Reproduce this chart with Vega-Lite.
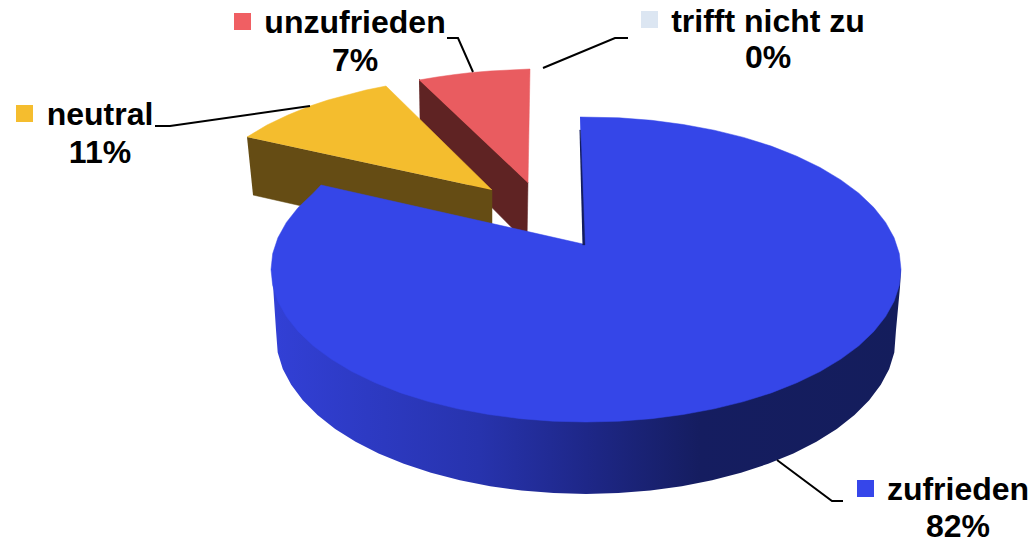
{"$schema":"https://vega.github.io/schema/vega-lite/v6.json","width":1032,"height":541,"autosize":"none","padding":0,"background":"white","view":{"stroke":null},
"datasets":{
"outlines":[
{"part":"redWall","i":1,"x":419,"y":79},{"part":"redWall","i":2,"x":528,"y":182},{"part":"redWall","i":3,"x":527,"y":243},{"part":"redWall","i":4,"x":420,"y":135},
{"part":"redTop","i":1,"x":419,"y":80},{"part":"redTop","i":2,"x":437,"y":77},{"part":"redTop","i":3,"x":455,"y":74.5},{"part":"redTop","i":4,"x":472,"y":72.5},{"part":"redTop","i":5,"x":490,"y":71},{"part":"redTop","i":6,"x":510,"y":70},{"part":"redTop","i":7,"x":530,"y":69},{"part":"redTop","i":8,"x":528,"y":183},
{"part":"yellowWall","i":1,"x":247,"y":137},{"part":"yellowWall","i":2,"x":492,"y":190},{"part":"yellowWall","i":3,"x":492,"y":249},{"part":"yellowWall","i":4,"x":253,"y":195},
{"part":"yellowTop","i":1,"x":247,"y":137},{"part":"yellowTop","i":2,"x":257,"y":131},{"part":"yellowTop","i":3,"x":267,"y":125},{"part":"yellowTop","i":4,"x":288,"y":115},{"part":"yellowTop","i":5,"x":310,"y":106},{"part":"yellowTop","i":6,"x":328,"y":100},{"part":"yellowTop","i":7,"x":347,"y":95},{"part":"yellowTop","i":8,"x":366,"y":90},{"part":"yellowTop","i":9,"x":386,"y":86},{"part":"yellowTop","i":10,"x":492,"y":190},
{"part":"blueWall","i":1,"x":272,"y":265},{"part":"blueWall","i":2,"x":273,"y":285},{"part":"blueWall","i":3,"x":276,"y":330},{"part":"blueWall","i":4,"x":277.7,"y":352.5},{"part":"blueWall","i":5,"x":282.8,"y":368.9},{"part":"blueWall","i":6,"x":291.2,"y":384.8},{"part":"blueWall","i":7,"x":302.8,"y":400.3},{"part":"blueWall","i":8,"x":317.5,"y":415},{"part":"blueWall","i":9,"x":335.2,"y":428.9},{"part":"blueWall","i":10,"x":355.6,"y":441.7},{"part":"blueWall","i":11,"x":378.6,"y":453.4},{"part":"blueWall","i":12,"x":403.8,"y":463.8},{"part":"blueWall","i":13,"x":431,"y":472.8},{"part":"blueWall","i":14,"x":459.9,"y":480.3},{"part":"blueWall","i":15,"x":490.2,"y":486.3},{"part":"blueWall","i":16,"x":521.6,"y":490.5},{"part":"blueWall","i":17,"x":553.6,"y":493.1},{"part":"blueWall","i":18,"x":586,"y":494},{"part":"blueWall","i":19,"x":618.4,"y":493.1},{"part":"blueWall","i":20,"x":650.4,"y":490.5},{"part":"blueWall","i":21,"x":681.8,"y":486.3},{"part":"blueWall","i":22,"x":712.1,"y":480.3},{"part":"blueWall","i":23,"x":741,"y":472.8},{"part":"blueWall","i":24,"x":768.2,"y":463.8},{"part":"blueWall","i":25,"x":793.4,"y":453.4},{"part":"blueWall","i":26,"x":816.4,"y":441.7},{"part":"blueWall","i":27,"x":836.8,"y":428.9},{"part":"blueWall","i":28,"x":854.5,"y":415},{"part":"blueWall","i":29,"x":869.2,"y":400.3},{"part":"blueWall","i":30,"x":880.8,"y":384.8},{"part":"blueWall","i":31,"x":889.2,"y":368.9},{"part":"blueWall","i":32,"x":894.3,"y":352.5},{"part":"blueWall","i":33,"x":896,"y":330},{"part":"blueWall","i":34,"x":900,"y":287},{"part":"blueWall","i":35,"x":901,"y":270},
{"part":"blueTop","i":1,"x":580,"y":117},{"part":"blueTop","i":2,"x":618.9,"y":117.8},{"part":"blueTop","i":3,"x":651.5,"y":120.3},{"part":"blueTop","i":4,"x":683.3,"y":124.5},{"part":"blueTop","i":5,"x":714.1,"y":130.2},{"part":"blueTop","i":6,"x":743.5,"y":137.4},{"part":"blueTop","i":7,"x":771.2,"y":146.1},{"part":"blueTop","i":8,"x":796.8,"y":156.2},{"part":"blueTop","i":9,"x":820.1,"y":167.5},{"part":"blueTop","i":10,"x":840.8,"y":179.9},{"part":"blueTop","i":11,"x":858.8,"y":193.2},{"part":"blueTop","i":12,"x":873.8,"y":207.5},{"part":"blueTop","i":13,"x":885.6,"y":222.4},{"part":"blueTop","i":14,"x":894.1,"y":237.8},{"part":"blueTop","i":15,"x":899.3,"y":253.6},{"part":"blueTop","i":16,"x":901,"y":269.5},{"part":"blueTop","i":17,"x":899.3,"y":285.4},{"part":"blueTop","i":18,"x":894.1,"y":301.2},{"part":"blueTop","i":19,"x":885.6,"y":316.6},{"part":"blueTop","i":20,"x":873.8,"y":331.5},{"part":"blueTop","i":21,"x":858.8,"y":345.8},{"part":"blueTop","i":22,"x":840.8,"y":359.1},{"part":"blueTop","i":23,"x":820.1,"y":371.5},{"part":"blueTop","i":24,"x":796.8,"y":382.8},{"part":"blueTop","i":25,"x":771.2,"y":392.9},{"part":"blueTop","i":26,"x":743.5,"y":401.6},{"part":"blueTop","i":27,"x":714.1,"y":408.8},{"part":"blueTop","i":28,"x":683.3,"y":414.5},{"part":"blueTop","i":29,"x":651.5,"y":418.7},{"part":"blueTop","i":30,"x":618.9,"y":421.2},{"part":"blueTop","i":31,"x":586,"y":422},{"part":"blueTop","i":32,"x":553.1,"y":421.2},{"part":"blueTop","i":33,"x":520.5,"y":418.7},{"part":"blueTop","i":34,"x":488.7,"y":414.5},{"part":"blueTop","i":35,"x":457.9,"y":408.8},{"part":"blueTop","i":36,"x":428.5,"y":401.6},{"part":"blueTop","i":37,"x":400.8,"y":392.9},{"part":"blueTop","i":38,"x":375.2,"y":382.8},{"part":"blueTop","i":39,"x":351.9,"y":371.5},{"part":"blueTop","i":40,"x":331.2,"y":359.1},{"part":"blueTop","i":41,"x":313.2,"y":345.8},{"part":"blueTop","i":42,"x":298.2,"y":331.5},{"part":"blueTop","i":43,"x":286.4,"y":316.6},{"part":"blueTop","i":44,"x":277.9,"y":301.2},{"part":"blueTop","i":45,"x":272.7,"y":285.4},{"part":"blueTop","i":46,"x":271,"y":269.5},{"part":"blueTop","i":47,"x":272.7,"y":253.6},{"part":"blueTop","i":48,"x":277.9,"y":237.8},{"part":"blueTop","i":49,"x":286.4,"y":222.4},{"part":"blueTop","i":50,"x":298.2,"y":207.5},{"part":"blueTop","i":51,"x":313.2,"y":193.2},{"part":"blueTop","i":52,"x":321,"y":185},{"part":"blueTop","i":53,"x":583,"y":244},
{"part":"blueCut","i":1,"x":579.5,"y":130},{"part":"blueCut","i":2,"x":580.5,"y":130},{"part":"blueCut","i":3,"x":585,"y":245},{"part":"blueCut","i":4,"x":582.5,"y":245}
],
"leaders":[
{"category":"neutral","i":1,"x":155,"y":126},{"category":"neutral","i":2,"x":170,"y":126},{"category":"neutral","i":3,"x":310,"y":106},
{"category":"unzufrieden","i":1,"x":447,"y":38},{"category":"unzufrieden","i":2,"x":458,"y":38},{"category":"unzufrieden","i":3,"x":473,"y":72},
{"category":"trifft nicht zu","i":1,"x":543,"y":68},{"category":"trifft nicht zu","i":2,"x":615,"y":38},{"category":"trifft nicht zu","i":3,"x":628,"y":38},
{"category":"zufrieden","i":1,"x":777,"y":460},{"category":"zufrieden","i":2,"x":832,"y":501},{"category":"zufrieden","i":3,"x":843,"y":501}
],
"slices":[
{"category":"zufrieden","share":"82%","swatchX":865.5,"swatchY":488.5,"labelX":958,"nameY":500,"shareY":537},
{"category":"neutral","share":"11%","swatchX":24.5,"swatchY":113.5,"labelX":100,"nameY":125,"shareY":163},
{"category":"unzufrieden","share":"7%","swatchX":242.5,"swatchY":21.5,"labelX":355,"nameY":33,"shareY":71},
{"category":"trifft nicht zu","share":"0%","swatchX":649.5,"swatchY":19.5,"labelX":768,"nameY":32,"shareY":68}
]},
"encoding":{},
"layer":[
{"data":{"name":"outlines"},"transform":[{"filter":"datum.part==='redWall'"}],"mark":{"type":"line","fill":"#5f2323","stroke":"#5f2323","strokeWidth":0.5},"encoding":{"x":{"field":"x","type":"quantitative","scale":{"domain":[0,1032],"nice":false,"zero":false},"axis":null},"y":{"field":"y","type":"quantitative","scale":{"domain":[541,0],"nice":false,"zero":false},"axis":null},"order":{"field":"i"}}},
{"data":{"name":"outlines"},"transform":[{"filter":"datum.part==='redTop'"}],"mark":{"type":"line","fill":"#e95c60","stroke":"#e95c60","strokeWidth":0.5},"encoding":{"x":{"field":"x","type":"quantitative","axis":null},"y":{"field":"y","type":"quantitative","axis":null},"order":{"field":"i"}}},
{"data":{"name":"outlines"},"transform":[{"filter":"datum.part==='yellowWall'"}],"mark":{"type":"line","fill":"#654c14","stroke":"#654c14","strokeWidth":0.5},"encoding":{"x":{"field":"x","type":"quantitative","axis":null},"y":{"field":"y","type":"quantitative","axis":null},"order":{"field":"i"}}},
{"data":{"name":"outlines"},"transform":[{"filter":"datum.part==='yellowTop'"}],"mark":{"type":"line","fill":"#f4bd2e","stroke":"#f4bd2e","strokeWidth":0.5},"encoding":{"x":{"field":"x","type":"quantitative","axis":null},"y":{"field":"y","type":"quantitative","axis":null},"order":{"field":"i"}}},
{"data":{"name":"outlines"},"transform":[{"filter":"datum.part==='blueWall'"}],"mark":{"type":"line","strokeWidth":0,"fill":{"gradient":"linear","x1":0,"x2":1,"y1":0,"y2":0,"stops":[{"offset":0,"color":"#3240d6"},{"offset":0.33,"color":"#2733ad"},{"offset":0.5,"color":"#1e2788"},{"offset":0.68,"color":"#151d60"},{"offset":1,"color":"#141d5c"}]}},"encoding":{"x":{"field":"x","type":"quantitative","axis":null},"y":{"field":"y","type":"quantitative","axis":null},"order":{"field":"i"}}},
{"data":{"name":"outlines"},"transform":[{"filter":"datum.part==='blueTop'"}],"mark":{"type":"line","fill":"#3546e8","stroke":"#3546e8","strokeWidth":0.5},"encoding":{"x":{"field":"x","type":"quantitative","axis":null},"y":{"field":"y","type":"quantitative","axis":null},"order":{"field":"i"}}},
{"data":{"name":"outlines"},"transform":[{"filter":"datum.part==='blueCut'"}],"mark":{"type":"line","fill":"#141d5e","stroke":"#141d5e","strokeWidth":0.3},"encoding":{"x":{"field":"x","type":"quantitative","axis":null},"y":{"field":"y","type":"quantitative","axis":null},"order":{"field":"i"}}},
{"data":{"name":"leaders"},"mark":{"type":"line","color":"black","strokeWidth":2},"encoding":{"x":{"field":"x","type":"quantitative","axis":null},"y":{"field":"y","type":"quantitative","axis":null},"detail":{"field":"category"},"order":{"field":"i"}}},
{"data":{"name":"slices"},"mark":{"type":"point","shape":"square","filled":true,"opacity":1,"size":289},"encoding":{"x":{"field":"swatchX","type":"quantitative","axis":null},"y":{"field":"swatchY","type":"quantitative","axis":null},"color":{"field":"category","type":"nominal","legend":null,"scale":{"domain":["zufrieden","neutral","unzufrieden","trifft nicht zu"],"range":["#3646ea","#f5bd2e","#f05f63","#dce6f2"]}}}},
{"data":{"name":"slices"},"mark":{"type":"text","font":"Liberation Sans","fontWeight":"bold","fontSize":32,"align":"center","baseline":"alphabetic","color":"black"},"encoding":{"x":{"field":"labelX","type":"quantitative","axis":null},"y":{"field":"nameY","type":"quantitative","axis":null},"text":{"field":"category"}}},
{"data":{"name":"slices"},"mark":{"type":"text","font":"Liberation Sans","fontWeight":"bold","fontSize":32,"align":"center","baseline":"alphabetic","color":"black"},"encoding":{"x":{"field":"labelX","type":"quantitative","axis":null},"y":{"field":"shareY","type":"quantitative","axis":null},"text":{"field":"share"}}}
]}
